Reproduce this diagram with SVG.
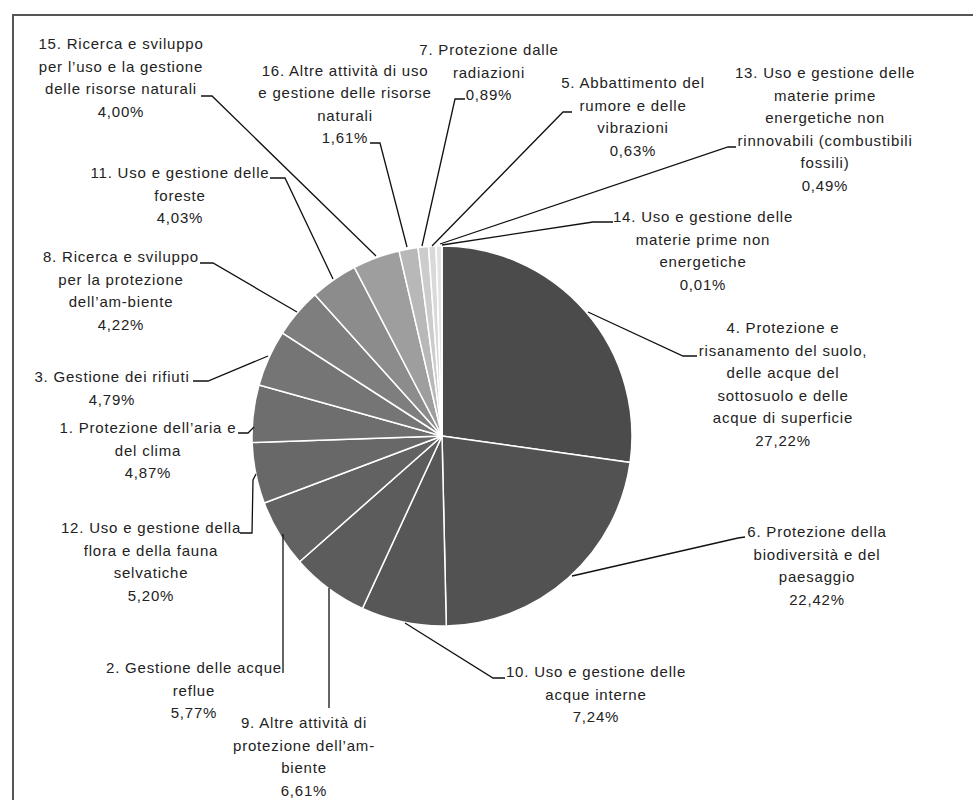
<svg xmlns="http://www.w3.org/2000/svg" width="973" height="800" viewBox="0 0 973 800">
<style>
.lbl{font-family:"Liberation Sans",Arial,sans-serif;font-size:15px;letter-spacing:0.8px;fill:#222;text-anchor:middle}
.lead{fill:none;stroke:#111;stroke-width:1.3}
.slice{stroke:#fff;stroke-width:1.5}
</style>
<rect width="973" height="800" fill="#fff"/>
<path d="M13 800V15H973" fill="none" stroke="#555" stroke-width="2"/>
<g id="pie">
<g id="s4"><path class="slice" fill="#4b4b4b" d="M442 436L442 246A190 190 0 0 1 630.15 462.42Z"/></g>
<g id="s6"><path class="slice" fill="#525252" d="M442 436L630.15 462.42A190 190 0 0 1 446.30 625.95Z"/></g>
<g id="s10"><path class="slice" fill="#575757" d="M442 436L446.30 625.95A190 190 0 0 1 362.41 608.53Z"/></g>
<g id="s9"><path class="slice" fill="#5c5c5c" d="M442 436L362.41 608.53A190 190 0 0 1 299.58 561.76Z"/></g>
<g id="s2"><path class="slice" fill="#626262" d="M442 436L299.58 561.76A190 190 0 0 1 264.22 503.04Z"/></g>
<g id="s12"><path class="slice" fill="#686868" d="M442 436L264.22 503.04A190 190 0 0 1 252.11 442.44Z"/></g>
<g id="s1"><path class="slice" fill="#6e6e6e" d="M442 436L252.11 442.44A190 190 0 0 1 258.99 384.94Z"/></g>
<g id="s3"><path class="slice" fill="#757575" d="M442 436L258.99 384.94A190 190 0 0 1 282.35 332.98Z"/></g>
<g id="s8"><path class="slice" fill="#7e7e7e" d="M442 436L282.35 332.98A190 190 0 0 1 314.93 294.74Z"/></g>
<g id="s11"><path class="slice" fill="#8c8c8c" d="M442 436L314.93 294.74A190 190 0 0 1 354.37 267.41Z"/></g>
<g id="s15"><path class="slice" fill="#9e9e9e" d="M442 436L354.37 267.41A190 190 0 0 1 399.04 250.92Z"/></g>
<g id="s16"><path class="slice" fill="#b8b8b8" d="M442 436L399.04 250.92A190 190 0 0 1 417.95 247.53Z"/></g>
<g id="s7"><path class="slice" fill="#cccccc" d="M442 436L417.95 247.53A190 190 0 0 1 428.52 246.48Z"/></g>
<g id="s5"><path class="slice" fill="#d9d9d9" d="M442 436L428.52 246.48A190 190 0 0 1 436.03 246.09Z"/></g>
<g id="s13"><path class="slice" fill="#e3e3e3" d="M442 436L436.03 246.09A190 190 0 0 1 441.88 246Z"/></g>
<g id="s14"><path class="slice" fill="#eeeeee" d="M442 436L441.88 246A190 190 0 0 1 442 246Z"/></g>
</g>
<g id="connectors">
<polyline class="lead" points="201,96 212,96 376,256"/>
<polyline class="lead" points="370,143 380,143 407,247"/>
<polyline class="lead" points="465,99 455,99 422,246"/>
<polyline class="lead" points="572,112 563,112 432,246"/>
<polyline class="lead" points="736,147 728,147 440,244"/>
<polyline class="lead" points="613,222 593,222 442,245"/>
<polyline class="lead" points="697,356 683,356 588,312"/>
<polyline class="lead" points="745,537 738,538 572,576"/>
<polyline class="lead" points="505,678 493,678 405,623"/>
<polyline class="lead" points="329,708 329,588"/>
<polyline class="lead" points="283,673 283,534"/>
<polyline class="lead" points="240,533 252,533 253,480 256,474"/>
<polyline class="lead" points="238,433 248,433 254,427"/>
<polyline class="lead" points="193,381 208,381 268,356"/>
<polyline class="lead" points="200,263 213,263 297,312"/>
<polyline class="lead" points="270,178 285,178 333,279"/>
</g>
<g id="label15"><text class="lbl"><tspan x="121" y="49">15. Ricerca e sviluppo</tspan><tspan x="121" y="71.5">per l’uso e la gestione</tspan><tspan x="121" y="94">delle risorse naturali</tspan><tspan x="121" y="116.5">4,00%</tspan></text></g>
<g id="label16"><text class="lbl"><tspan x="345" y="75.5">16. Altre attività di uso</tspan><tspan x="345" y="98">e gestione delle risorse</tspan><tspan x="345" y="120.5">naturali</tspan><tspan x="345" y="143">1,61%</tspan></text></g>
<g id="label7"><text class="lbl"><tspan x="489" y="55">7. Protezione dalle</tspan><tspan x="489" y="77.5">radiazioni</tspan><tspan x="489" y="100">0,89%</tspan></text></g>
<g id="label5"><text class="lbl"><tspan x="633" y="88">5. Abbattimento del</tspan><tspan x="633" y="110.5">rumore e delle</tspan><tspan x="633" y="133">vibrazioni</tspan><tspan x="633" y="155.5">0,63%</tspan></text></g>
<g id="label13"><text class="lbl"><tspan x="825" y="78">13. Uso e gestione delle</tspan><tspan x="825" y="100.5">materie prime</tspan><tspan x="825" y="123">energetiche non</tspan><tspan x="825" y="145.5">rinnovabili (combustibili</tspan><tspan x="825" y="168">fossili)</tspan><tspan x="825" y="190.5">0,49%</tspan></text></g>
<g id="label14"><text class="lbl"><tspan x="703" y="222">14. Uso e gestione delle</tspan><tspan x="703" y="244.5">materie prime non</tspan><tspan x="703" y="267">energetiche</tspan><tspan x="703" y="289.5">0,01%</tspan></text></g>
<g id="label4"><text class="lbl"><tspan x="783" y="333">4. Protezione e</tspan><tspan x="783" y="355.5">risanamento del suolo,</tspan><tspan x="783" y="378">delle acque del</tspan><tspan x="783" y="400.5">sottosuolo e delle</tspan><tspan x="783" y="423">acque di superficie</tspan><tspan x="783" y="445.5">27,22%</tspan></text></g>
<g id="label6"><text class="lbl"><tspan x="817" y="537">6. Protezione della</tspan><tspan x="817" y="559.5">biodiversità e del</tspan><tspan x="817" y="582">paesaggio</tspan><tspan x="817" y="604.5">22,42%</tspan></text></g>
<g id="label10"><text class="lbl"><tspan x="596" y="677">10. Uso e gestione delle</tspan><tspan x="596" y="699.5">acque interne</tspan><tspan x="596" y="722">7,24%</tspan></text></g>
<g id="label9"><text class="lbl"><tspan x="304" y="728">9. Altre attività di</tspan><tspan x="304" y="750.5">protezione dell’am-</tspan><tspan x="304" y="773">biente</tspan><tspan x="304" y="795.5">6,61%</tspan></text></g>
<g id="label2"><text class="lbl"><tspan x="194" y="673">2. Gestione delle acque</tspan><tspan x="194" y="695.5">reflue</tspan><tspan x="194" y="718">5,77%</tspan></text></g>
<g id="label12"><text class="lbl"><tspan x="151" y="533">12. Uso e gestione della</tspan><tspan x="151" y="555.5">flora e della fauna</tspan><tspan x="151" y="578">selvatiche</tspan><tspan x="151" y="600.5">5,20%</tspan></text></g>
<g id="label1"><text class="lbl"><tspan x="148" y="433">1. Protezione dell’aria e</tspan><tspan x="148" y="455.5">del clima</tspan><tspan x="148" y="478">4,87%</tspan></text></g>
<g id="label3"><text class="lbl"><tspan x="112" y="382">3. Gestione dei rifiuti</tspan><tspan x="112" y="404.5">4,79%</tspan></text></g>
<g id="label8"><text class="lbl"><tspan x="121" y="262">8. Ricerca e sviluppo</tspan><tspan x="121" y="284.5">per la protezione</tspan><tspan x="121" y="307">dell’am-biente</tspan><tspan x="121" y="329.5">4,22%</tspan></text></g>
<g id="label11"><text class="lbl"><tspan x="180" y="178">11. Uso e gestione delle</tspan><tspan x="180" y="200.5">foreste</tspan><tspan x="180" y="223">4,03%</tspan></text></g>
</svg>
